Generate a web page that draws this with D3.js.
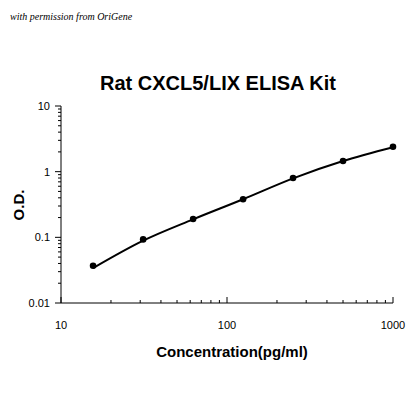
<!DOCTYPE html>
<html><head><meta charset="utf-8">
<script src="https://cdn.jsdelivr.net/npm/d3@7"></script>
<style>body{margin:0;background:#fff}</style>
</head><body>
<svg id="c" width="420" height="420"></svg>
<script>
var conc = [15.6, 31.25, 62.5, 125, 250, 500, 1000];
var od = [0.037, 0.093, 0.19, 0.38, 0.8, 1.45, 2.4];
var fitX = [15.6, 31.25, 62.5, 125, 250, 500, 1000];
var fitY = [0.034, 0.089, 0.188, 0.38, 0.79, 1.45, 2.35];
var xTicks = [10, 100, 1000];
var yTicks = [0.01, 0.1, 1, 10];

var svg = d3.select("#c");
var x = d3.scaleLog().domain([10, 1000]).range([61, 393]);
var y = d3.scaleLog().domain([0.01, 10]).range([303, 106]);

svg.append("text").attr("x", 10).attr("y", 20)
  .style("font", "italic 10px 'Liberation Serif'").text("with permission from OriGene");
svg.append("text").attr("x", 218).attr("y", 90).attr("text-anchor", "middle")
  .style("font", "bold 20px 'Liberation Sans'").text("Rat CXCL5/LIX ELISA Kit");

var minors = [];
[10, 100].forEach(function(b){ for (var i = 2; i < 10; i++) minors.push(b * i); });
var yMin = [];
[0.01, 0.1, 1].forEach(function(b){ for (var i = 2; i < 10; i++) yMin.push(b * i); });

svg.append("line").attr("x1", 61).attr("x2", 393).attr("y1", 303).attr("y2", 303).attr("stroke", "#000");
svg.append("line").attr("x1", 61).attr("x2", 61).attr("y1", 106).attr("y2", 303).attr("stroke", "#000");
svg.selectAll(".xm").data(minors.concat(xTicks)).enter().append("line")
  .attr("x1", d => x(d)).attr("x2", d => x(d)).attr("y1", 303)
  .attr("y2", d => xTicks.indexOf(d) >= 0 ? 297 : 300).attr("stroke", "#000");
svg.selectAll(".ym").data(yMin.concat(yTicks)).enter().append("line")
  .attr("y1", d => y(d)).attr("y2", d => y(d)).attr("x1", 61)
  .attr("x2", d => yTicks.indexOf(d) >= 0 ? 55 : 58).attr("stroke", "#000");

svg.selectAll(".xl").data(xTicks).enter().append("text")
  .attr("x", d => x(d)).attr("y", 329).attr("text-anchor", "middle")
  .style("font", "11px 'Liberation Sans'").text(d => d);
svg.selectAll(".yl").data(yTicks).enter().append("text")
  .attr("x", 50).attr("y", d => y(d) + 4).attr("text-anchor", "end")
  .style("font", "11px 'Liberation Sans'").text(d => d);

svg.append("text").attr("x", 232).attr("y", 357).attr("text-anchor", "middle")
  .style("font", "bold 15px 'Liberation Sans'").text("Concentration(pg/ml)");
svg.append("text").attr("transform", "translate(24,205) rotate(-90)").attr("text-anchor", "middle")
  .style("font", "bold 15px 'Liberation Sans'").text("O.D.");

var line = d3.line().x((d, i) => x(fitX[i])).y(d => y(d)).curve(d3.curveMonotoneX);
svg.append("path").attr("d", line(fitY)).attr("fill", "none").attr("stroke", "#000").attr("stroke-width", 2);
svg.selectAll(".p").data(od).enter().append("circle")
  .attr("cx", (d, i) => x(conc[i])).attr("cy", d => y(d)).attr("r", 3.3).attr("fill", "#000");
</script>
</body></html>
